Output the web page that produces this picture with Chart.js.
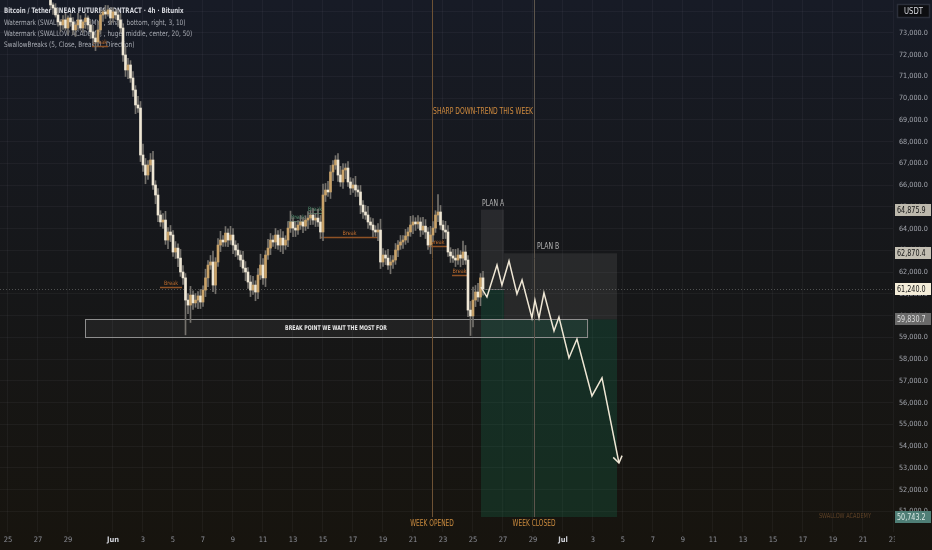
<!DOCTYPE html>
<html>
<head>
<meta charset="utf-8">
<script src="https://cdn.jsdelivr.net/npm/chart.js@4.4.1/dist/chart.umd.min.js"></script>
<style>
  html, body { margin: 0; padding: 0; background: #161a25; }
  #myChart { display: block; }
</style>
</head>
<body>
<canvas id="myChart" width="932" height="550"></canvas>
<script>
// ----------- Data ----------------------------------- //

// days counted from May 25 (day 0), 4h candles
let startDay = 2.8333;
let firstOpen = 74500;

let closes = [
  74290,74150,73830,73510,73370,73600,73230,73690,73510,73140,
  73370,73600,73230,73510,73690,73370,73050,72770,72590,73140,
  73830,73970,73870,74060,73690,73970,73830,73600,73230,71990,
  71300,71530,70930,70380,69690,69550,67390,66930,66470,66930,
  67160,66010,65550,64630,64310,64400,63480,63850,63710,62930,
  63110,62650,62010,61740,60720,60490,60950,60590,60720,60910,
  60630,61180,61740,62330,62470,61410,62470,63250,63480,63390,
  63800,63480,63710,63250,63020,62790,62560,62190,62010,61550,
  61180,61410,61090,61870,62330,61740,62790,63110,63480,63390,
  63710,63250,63570,63250,63480,64030,64310,64030,63940,64170,
  64310,64120,64400,64490,64630,64400,64490,64310,63850,65550,
  65780,65690,66610,66930,67160,66470,66150,66700,66790,66150,
  65870,66010,65780,65690,65090,64770,64630,64310,64170,63940,
  63850,63940,62470,62790,62650,62330,62470,62560,63020,63250,
  63390,63480,63670,63850,64170,64310,64220,64310,63940,64120,
  63850,63250,63710,64030,64630,64770,64170,63940,63850,62930,
  62750,62650,62560,62790,62650,62930,62560,60260,59990,60720,
  61090,60860,61740,61240
];

// wick length beyond the body, in hundreds of USDT
let wickUp = [
  2,1,2,3,1,2,3,1,2,2, 1,3,2,1,2,1,2,3,2,4, 2,1,3,2,1,2,1,2,3,2,
  4,3,2,3,2,4,3,5,3,2, 3,4,2,3,2,3,4,2,3,2, 3,2,4,3,2,3,4,2,3,2,
  3,2,4,2,3,5,2,3,4,2, 3,2,4,3,2,3,2,4,3,2, 3,4,2,3,5,3,2,4,3,2,
  3,2,4,3,2,3,5,2,3,2, 3,2,2,3,2,3,2,4,3,5, 3,4,3,2,2,3,4,3,2,3,
  2,3,4,2,3,2,3,4,2,3, 2,3,5,3,2,4,3,2,3,2, 3,2,3,2,4,3,2,3,2,4,
  3,2,4,3,2,8,3,2,4,3, 2,3,4,3,2,5,3,2,4,6, 3,4,2,3
];
let wickDn = [
  2,3,1,2,3,2,1,3,2,2, 3,2,1,2,3,2,3,2,4,2, 2,3,2,1,3,2,2,3,2,3,
  3,4,2,3,4,2,3,3,4,2, 3,2,4,3,2,3,2,4,3,2, 3,4,2,3,16,4,8,3,2,4,
  3,2,3,4,2,3,4,2,3,2, 2,3,2,4,3,2,3,2,4,3, 3,2,4,3,2,3,4,2,3,2,
  3,2,3,4,2,3,2,4,3,2, 2,3,2,4,3,2,3,2,3,4, 3,2,3,4,2,3,2,3,4,2,
  3,2,3,2,4,3,2,3,2,3, 2,4,3,2,3,2,4,3,2,3, 2,3,2,3,2,4,3,2,3,2,
  3,2,4,3,2,3,2,4,3,2, 3,2,3,2,4,3,2,3,9,5, 3,2,4,3
];

// time axis
let tickDays = [0,2,4,7,9,11,13,15,17,19,21,23,25,27,29,31,33,35,37,39,41,43,45,47,49,51,53,55,57,59];
let tickLabels = ["25","27","29","Jun","3","5","7","9","11","13","15","17","19","21","23","25","27","29","Jul","3","5","7","9","11","13","15","17","19","21","23"];

// price axis
let priceTicks = [51000,52000,53000,54000,55000,56000,57000,58000,59000,60000,61000,62000,
                  63000,64000,65000,66000,67000,68000,69000,70000,71000,72000,73000,74000];

// projected path (plan B scenario)
let projDays = [31.53,31.93,32.6,32.93,33.4,33.93,34.27,34.93,35.13,35.4,35.73,36.4,36.73,37.4,37.93,38.93,39.6,40.73];
let projPrices = [61320,60860,62330,61410,62520,61000,61640,59900,60720,59900,61050,59300,59940,58060,58930,56310,57140,53230];

// short positions: [fromDay, toDay, entry, stop, target]
let planA = [31.53, 33.07, 61240.0, 64875.9, 50743.2];
let planB = [33.07, 40.6, 59830.7, 62870.4, 50743.2];

// break point zone: [fromDay, toDay, top, bottom]
let breakZone = [5.13, 38.6, 59830.7, 59020];

// SwallowBreaks levels
let breakFrom  = [5.6, 10.13, 18.67, 20.0, 20.87, 28.0, 29.6];
let breakTo    = [6.67, 11.6, 20.0, 20.93, 24.67, 29.27, 30.6];
let breakPrice = [72400, 61320, 64360, 64720, 63620, 63200, 61870];
let breakBull  = [false, false, true, true, false, false, false];

// week markers
let weekOpenDay = 28.27;
let weekCloseDay = 35.07;

let lastPrice = 61240.0;
let priceBadges = [64875.9, 62870.4, 61240.0, 59830.7, 50743.2];

// ------------- X ------------------ X ------------------

const FONT = '"Liberation Sans Narrow", "DejaVu Sans Condensed", "Liberation Sans", sans-serif';
Chart.defaults.font.family = FONT;

let opens = closes.map((c, i) => i === 0 ? firstOpen : closes[i - 1]);
let days = closes.map((c, i) => startDay + i / 6);

let bodies = closes.map((c, i) => ({ x: days[i], y: [opens[i], c] }));
let wicks = closes.map((c, i) => ({
  x: days[i],
  y: [Math.min(opens[i], c) - wickDn[i] * 100, Math.max(opens[i], c) + wickUp[i] * 100]
}));
let bodyColors = closes.map((c, i) => c >= opens[i] ? "#c9a36a" : "#efe7d5");

function fmt(v) {
  return v.toLocaleString("en-US", { minimumFractionDigits: 1, maximumFractionDigits: 1 });
}

// narrow text: the screenshot is squeezed sideways
function say(ctx, s, x, y, sx) {
  ctx.save();
  ctx.translate(x, y);
  ctx.scale(sx, 1);
  ctx.fillText(s, 0, 0);
  ctx.restore();
}

function bgGradient(chart) {
  const g = chart.ctx.createLinearGradient(0, 0, 0, chart.height);
  g.addColorStop(0, "#171b26");
  g.addColorStop(0.5, "#161719");
  g.addColorStop(1, "#17140e");
  return g;
}

const bgPlugin = {
  id: "bg",
  beforeDraw(chart) {
    const ctx = chart.ctx;
    ctx.save();
    ctx.fillStyle = bgGradient(chart);
    ctx.fillRect(0, 0, chart.width, chart.height);
    ctx.restore();
  }
};

// drawings below the candles
const underPlugin = {
  id: "under",
  beforeDatasetsDraw(chart) {
    const ctx = chart.ctx, a = chart.chartArea;
    const X = v => chart.scales.x.getPixelForValue(v);
    const Y = v => chart.scales.y.getPixelForValue(v);
    ctx.save();
    ctx.beginPath();
    ctx.rect(a.left, a.top, a.right - a.left, a.bottom - a.top);
    ctx.clip();

    // legend text (candles overlap it in the original)
    ctx.textBaseline = "middle";
    ctx.textAlign = "left";
    ctx.fillStyle = "#d4d6dc";
    ctx.font = "bold 7.5px " + FONT;
    say(ctx, "Bitcoin / Tether LINEAR FUTURES CONTRACT \u00b7 4h \u00b7 Bitunix", 4, 11, 0.82);
    ctx.font = "7.5px " + FONT;
    ctx.fillStyle = "#a9acb4";
    say(ctx, "Watermark (SWALLOW ACADEMY, , small, bottom, right, 3, 10)", 4, 23, 0.86);
    say(ctx, "Watermark (SWALLOW ACADEMY, , huge, middle, center, 20, 50)", 4, 34, 0.86);
    say(ctx, "SwallowBreaks (5, Close, Break, 1, Direction)", 4, 45, 0.86);

    // target (green) and stop (gray) zones
    [planA, planB].forEach(p => {
      const x0 = X(p[0]), x1 = X(p[1]);
      ctx.fillStyle = "rgba(20,120,85,0.25)";
      ctx.fillRect(x0, Y(p[2]), x1 - x0, Y(p[4]) - Y(p[2]));
      ctx.fillStyle = "rgba(130,130,130,0.17)";
      ctx.fillRect(x0, Y(p[3]), x1 - x0, Y(p[2]) - Y(p[3]));
    });
    ctx.strokeStyle = "#5d5d5f";
    ctx.lineWidth = 1;
    ctx.beginPath();
    ctx.moveTo(X(planA[0]), Math.round(Y(planA[2])) + 0.5);
    ctx.lineTo(X(planA[1]), Math.round(Y(planA[2])) + 0.5);
    ctx.stroke();

    // current price dotted line
    ctx.strokeStyle = "rgba(190,190,190,0.35)";
    ctx.setLineDash([1, 2]);
    ctx.beginPath();
    const yl = Math.round(Y(lastPrice)) + 0.5;
    ctx.moveTo(a.left, yl);
    ctx.lineTo(a.right, yl);
    ctx.stroke();
    ctx.setLineDash([]);

    // break point zone
    const bx0 = X(breakZone[0]), bx1 = X(breakZone[1]);
    const by0 = Math.round(Y(breakZone[2])) + 0.5, by1 = Math.round(Y(breakZone[3])) + 0.5;
    ctx.fillStyle = "rgba(255,255,255,0.05)";
    ctx.fillRect(bx0, by0, bx1 - bx0, by1 - by0);
    ctx.strokeStyle = "#8e8e8e";
    ctx.strokeRect(Math.round(bx0) + 0.5, by0, bx1 - bx0, by1 - by0);

    // week lines
    ctx.lineWidth = 1;
    ctx.strokeStyle = "#6e5234";
    ctx.beginPath();
    ctx.moveTo(Math.round(X(weekOpenDay)) + 0.5, a.top);
    ctx.lineTo(Math.round(X(weekOpenDay)) + 0.5, Y(50743.2));
    ctx.stroke();
    ctx.strokeStyle = "#5c554c";
    ctx.beginPath();
    ctx.moveTo(Math.round(X(weekCloseDay)) + 0.5, a.top);
    ctx.lineTo(Math.round(X(weekCloseDay)) + 0.5, Y(50743.2));
    ctx.stroke();

    // SwallowBreaks levels
    ctx.font = "6px " + FONT;
    ctx.textAlign = "center";
    ctx.textBaseline = "bottom";
    breakPrice.forEach((p, i) => {
      const x0 = X(breakFrom[i]), x1 = X(breakTo[i]), y = Math.round(Y(p)) + 0.5;
      ctx.strokeStyle = breakBull[i] ? "#3f7259" : "#8f5225";
      ctx.lineWidth = breakBull[i] ? 1 : 1.5;
      ctx.beginPath();
      ctx.moveTo(x0, y);
      ctx.lineTo(x1, y);
      ctx.stroke();
      ctx.fillStyle = breakBull[i] ? "#5a9a78" : "#c06d2d";
      say(ctx, "Break", (x0 + x1) / 2, y - 1, 0.9);
    });
    ctx.restore();
  }
};

// drawings above the candles
const overPlugin = {
  id: "over",
  afterDatasetsDraw(chart) {
    const ctx = chart.ctx, a = chart.chartArea;
    const X = v => chart.scales.x.getPixelForValue(v);
    const Y = v => chart.scales.y.getPixelForValue(v);
    ctx.save();

    // arrow head on projected path
    const n = projDays.length;
    const xe = X(projDays[n - 1]), ye = Y(projPrices[n - 1]);
    const xs = X(projDays[n - 2]), ys = Y(projPrices[n - 2]);
    const ang = Math.atan2(ye - ys, xe - xs);
    ctx.strokeStyle = "#efe7d5";
    ctx.lineWidth = 1.5;
    ctx.beginPath();
    ctx.moveTo(xe - 8 * Math.cos(ang - 0.6), ye - 8 * Math.sin(ang - 0.6));
    ctx.lineTo(xe, ye);
    ctx.lineTo(xe - 8 * Math.cos(ang + 0.6), ye - 8 * Math.sin(ang + 0.6));
    ctx.stroke();

    // texts
    ctx.textBaseline = "middle";
    ctx.font = "bold 6.5px " + FONT;
    ctx.fillStyle = "#e6e6e6";
    ctx.textAlign = "center";
    say(ctx, "BREAK POINT WE WAIT THE MOST FOR",
      (X(breakZone[0]) + X(breakZone[1])) / 2, (Y(breakZone[2]) + Y(breakZone[3])) / 2, 0.8);

    ctx.font = "8px " + FONT;
    ctx.textAlign = "left";
    ctx.fillStyle = "#d08b3e";
    say(ctx, "SHARP DOWN-TREND THIS WEEK", X(weekOpenDay) + 1, Y(69370), 0.84);
    ctx.fillStyle = "#b3b3b3";
    say(ctx, "PLAN A", X(31.6), Y(65140), 0.85);
    say(ctx, "PLAN B", X(35.27), Y(63160), 0.85);

    ctx.textAlign = "center";
    ctx.fillStyle = "#c98a3e";
    say(ctx, "WEEK OPENED", X(weekOpenDay), Y(50420), 0.82);
    say(ctx, "WEEK CLOSED", X(weekCloseDay), Y(50420), 0.82);

    ctx.textAlign = "right";
    ctx.font = "7px " + FONT;
    ctx.fillStyle = "#5e4126";
    say(ctx, "SWALLOW ACADEMY", a.right - 22, a.bottom - 16, 0.8);

    // cover the clipped time label under the price column
    ctx.fillStyle = bgGradient(chart);
    ctx.fillRect(a.right + 2, a.bottom + 1, chart.width - a.right, chart.height - a.bottom);

    // price badges
    const styles = [
      ["#bdb9ad", "#151515"],
      ["#c3bfb3", "#151515"],
      ["#f4edd9", "#151515"],
      ["#6a6a6a", "#dedede"],
      ["#4f7e76", "#d9e8e4"]
    ];
    ctx.font = "8.5px " + FONT;
    ctx.textAlign = "left";
    priceBadges.forEach((p, i) => {
      const y = Math.round(Y(p));
      ctx.fillStyle = styles[i][0];
      ctx.fillRect(a.right + 2, y - 6, 36, 12);
      ctx.fillStyle = styles[i][1];
      say(ctx, fmt(p), a.right + 4, y + 0.5, 0.84);
    });

    // currency box
    ctx.fillStyle = "#0d0e11";
    ctx.fillRect(a.right + 4, 4, 33, 14);
    ctx.strokeStyle = "#2b2f3a";
    ctx.strokeRect(a.right + 4.5, 4.5, 32, 13);
    ctx.fillStyle = "#d8dae0";
    ctx.textAlign = "center";
    say(ctx, "USDT", a.right + 20.5, 11.5, 0.9);
    ctx.restore();
  }
};

// ----------- Chart ------------ //

function show_chart() {
  new Chart("myChart", {
    type: "bar",
    data: {
      datasets: [
        {
          type: "line",
          data: projDays.map((d, i) => ({ x: d, y: projPrices[i] })),
          borderColor: "#efe7d5",
          borderWidth: 1.5,
          pointRadius: 0,
          tension: 0,
          order: 1
        },
        {
          data: bodies,
          backgroundColor: bodyColors,
          barThickness: 2,
          minBarLength: 1,
          grouped: false,
          borderWidth: 0,
          order: 2
        },
        {
          data: wicks,
          backgroundColor: "#75726d",
          barThickness: 1,
          grouped: false,
          borderWidth: 0,
          order: 3
        }
      ]
    },
    options: {
      responsive: false,
      devicePixelRatio: 1,
      animation: false,
      layout: { padding: 0 },
      plugins: { legend: { display: false }, tooltip: { enabled: false } },
      scales: {
        x: {
          type: "linear",
          min: -0.5333,
          max: 59,
          offset: false,
          border: { display: false },
          grid: { color: "rgba(235,240,255,0.045)", drawTicks: false, offset: false },
          afterBuildTicks: s => { s.ticks = tickDays.map(v => ({ value: v })); },
          afterFit: s => { s.height = 18; s.paddingLeft = 0; s.paddingRight = 0; },
          ticks: {
            autoSkip: false,
            maxRotation: 0,
            padding: 4,
            callback: v => tickLabels[tickDays.indexOf(v)],
            color: c => /^[A-Z]/.test(tickLabels[c.index] || "") ? "#cfd1d8" : "#8d9099",
            font: c => ({ family: FONT, size: 7.5, weight: /^[A-Z]/.test(tickLabels[c.index] || "") ? "bold" : "normal" })
          }
        },
        y: {
          position: "right",
          min: 50056,
          max: 74517,
          border: { display: false },
          grid: { color: "rgba(235,240,255,0.045)", drawTicks: false },
          afterBuildTicks: s => { s.ticks = priceTicks.map(v => ({ value: v })); },
          afterFit: s => { s.width = 39; s.paddingTop = 0; s.paddingBottom = 0; },
          ticks: {
            padding: 6,
            color: "#a3a6ae",
            font: { family: FONT, size: 7.2 },
            callback: v => fmt(v)
          }
        }
      }
    },
    plugins: [bgPlugin, underPlugin, overPlugin]
  });
}

show_chart();
</script>
</body>
</html>
